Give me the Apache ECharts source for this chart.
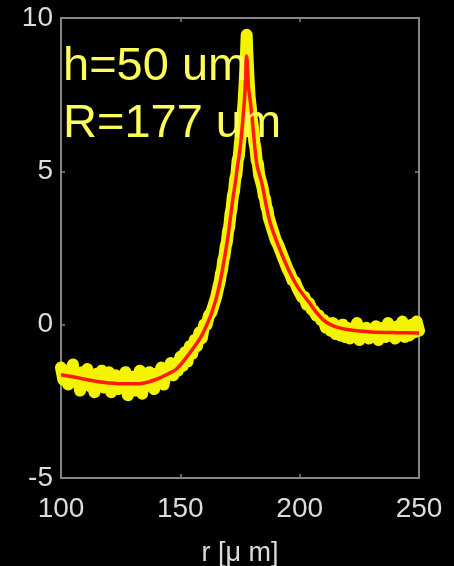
<!DOCTYPE html>
<html>
<head>
<meta charset="utf-8">
<style>
html,body{margin:0;padding:0;background:#000;}
#c{width:454px;height:566px;}
</style>
<script src="https://cdn.jsdelivr.net/npm/echarts@6/dist/echarts.min.js"></script>
</head>
<body>
<div id="c"></div>
<script>
// measured profile (yellow points): r [um] and value
const obsR = [100,101,102,103,104,105,106,107,108,109,110,111,112,113,114,115,116,117,118,119,120,121,122,123,124,125,126,127,128,129,130,131,132,133,134,135,136,137,138,139,140,141,142,143,144,145,146,147,148,149,150,151,152,153,154,155,156,157,158,159,160,161,162,163,164,165,166,166.5,167,167.5,168,168.5,169,169.5,170,170.5,171,171.5,172,172.5,173,173.5,174,174.5,175,175.5,176,176.5,177,177.5,177.8,178,178.5,179,179.5,180,180.5,181,181.5,182,182.5,183,183.5,184,184.5,185,185.5,186,186.5,187,187.5,188,188.5,189,189.5,190,191,192,193,194,195,196,197,198,199,200,201,202,203,204,205,206,207,208,209,210,211,212,213,214,215,216,217,218,219,220,221,222,223,224,225,226,227,228,229,230,231,232,233,234,235,236,237,238,239,240,241,242,243,244,245,246,247,248,249,250];
const obsV = [-1.4,-1.8,-1.5,-1.95,-1.55,-1.3,-1.85,-1.6,-2.15,-1.55,-1.75,-1.45,-2.0,-1.65,-2.2,-1.6,-1.9,-1.5,-2.05,-1.8,-1.55,-2.2,-1.85,-1.65,-2.1,-1.75,-2.0,-1.55,-2.3,-1.85,-1.7,-2.15,-1.9,-1.5,-2.25,-1.75,-2.0,-1.55,-1.85,-2.1,-1.6,-1.8,-1.4,-1.95,-1.5,-1.6,-1.25,-1.65,-1.3,-1.5,-1.05,-1.35,-0.9,-1.2,-0.7,-0.95,-0.5,-0.7,-0.25,-0.45,0.0,0.0,0.3,0.4,0.65,0.9,1.25,1.4,1.65,1.8,2.1,2.25,2.55,2.7,3.05,3.2,3.6,3.8,4.2,4.35,4.75,4.9,5.35,5.5,5.95,6.25,6.8,7.25,7.95,8.8,9.45,9.0,8.15,7.45,7.1,6.7,6.4,5.95,5.75,5.35,5.25,4.9,4.85,4.6,4.45,4.2,4.1,3.85,3.75,3.5,3.5,3.25,3.2,3.0,2.95,2.75,2.6,2.4,2.2,2.0,1.8,1.65,1.45,1.4,1.2,1.05,0.9,0.9,0.65,0.7,0.5,0.45,0.3,0.3,0.15,0.15,-0.1,0.05,-0.2,0.05,-0.3,-0.05,-0.35,0.0,-0.4,-0.1,-0.45,-0.15,-0.35,0.05,-0.5,-0.2,-0.4,-0.1,-0.45,-0.15,-0.35,-0.05,-0.5,-0.2,-0.1,-0.4,0.05,-0.35,-0.15,-0.45,-0.05,-0.3,0.1,-0.4,-0.15,-0.35,0.0,-0.25,0.1,-0.2];

// fitted curve (red)
const fitR = [100,105,110,115,120,125,130,135,140,145,148,151,154,157,159,161,163,165,166.6,168,170,171,172,173,174,175,176,177,177.8,178.6,179.2,180,181.3,182.2,184.1,186.9,189,191.7,195,199,204,207,210,213,216,220,225,230,240,250];
const fitV = [-1.63,-1.70,-1.78,-1.85,-1.90,-1.93,-1.93,-1.90,-1.78,-1.60,-1.47,-1.22,-0.92,-0.60,-0.35,-0.02,0.35,0.85,1.37,1.95,2.9,3.5,4.1,4.6,5.2,5.72,6.5,7.5,8.76,7.7,7.35,6.8,5.72,5.17,4.63,3.54,3.0,2.45,1.85,1.25,0.72,0.40,0.15,0.0,-0.09,-0.16,-0.21,-0.24,-0.26,-0.27];

const xTicks = [100,150,200,250];
const yTicks = [-5,0,5,10];
const notes = ['h=50 um','R=177 um'];
const xLabel = 'r [\u03bc m]';

const obs = obsR.map((r,i)=>[r,obsV[i]]);
const fit = fitR.map((r,i)=>[r,fitV[i]]);

const axisCol = '#858585';
const labCol = '#dcdcdc';
const font = 'Liberation Sans, Arial, sans-serif';

const tickLine = {show:true,inside:true,length:4,lineStyle:{color:axisCol,width:1.5}};
const line = {show:true,onZero:false,lineStyle:{color:axisCol,width:2}};

const chart = echarts.init(document.getElementById('c'), null, {renderer:'canvas'});
chart.setOption({
  backgroundColor:'#000',
  animation:false,
  grid:{left:61,right:35,top:18,bottom:88,containLabel:false,outerBoundsMode:'none'},
  xAxis:[{
    type:'value',min:xTicks[0],max:xTicks[3],interval:50,position:'bottom',
    axisLine:line,axisTick:tickLine,splitLine:{show:false},
    axisLabel:{color:labCol,fontSize:28,fontFamily:font,margin:17},
    name:xLabel,nameLocation:'middle',nameGap:62,
    nameTextStyle:{color:labCol,fontSize:27,fontFamily:font}
  },{
    type:'value',min:xTicks[0],max:xTicks[3],interval:50,position:'top',
    axisLine:line,axisTick:tickLine,splitLine:{show:false},axisLabel:{show:false}
  }],
  yAxis:[{
    type:'value',min:yTicks[0],max:yTicks[3],interval:5,position:'left',
    axisLine:line,axisTick:tickLine,splitLine:{show:false},
    axisLabel:{color:labCol,fontSize:28,fontFamily:font,margin:8,padding:[5,0,0,0]}
  },{
    type:'value',min:yTicks[0],max:yTicks[3],interval:5,position:'right',
    axisLine:line,axisTick:tickLine,splitLine:{show:false},axisLabel:{show:false}
  }],
  series:[{
    type:'line',data:obs,xAxisIndex:0,yAxisIndex:0,
    symbol:'circle',symbolSize:9,showSymbol:true,
    itemStyle:{color:'#f4f400'},
    lineStyle:{color:'#f4f400',width:12,join:'round',cap:'round'},
    clip:true,z:2
  },{
    type:'line',data:fit,xAxisIndex:0,yAxisIndex:0,
    smooth:0.3,symbol:'none',
    lineStyle:{color:'#ff1a0a',width:3.5},
    clip:true,z:3
  }],
  graphic:[{
    type:'text',left:63,top:44,z:10,
    style:{text:notes[0],fill:'#fdfd5a',font:'47px '+font}
  },{
    type:'text',left:63,top:101,z:10,
    style:{text:notes[1],fill:'#fdfd5a',font:'47px '+font}
  }]
});
</script>
</body>
</html>
